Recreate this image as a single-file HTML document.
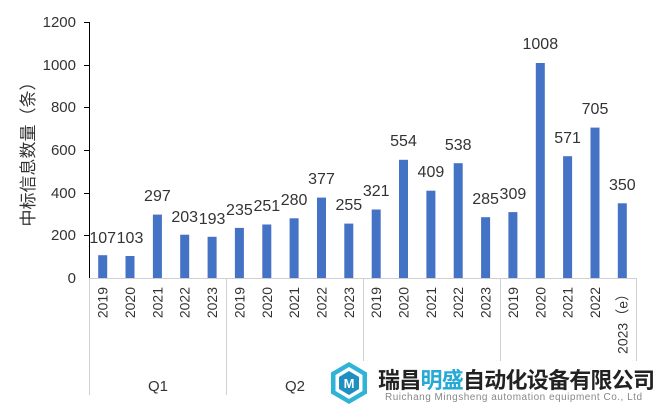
<!DOCTYPE html>
<html><head><meta charset="utf-8"><style>
html,body{margin:0;padding:0;background:#fff;}
svg{display:block;font-family:"Liberation Sans","Noto Sans CJK SC",sans-serif;}
</style></head><body>
<svg width="657" height="407" viewBox="0 0 657 407" xmlns="http://www.w3.org/2000/svg">
<rect width="657" height="407" fill="#fff"/>
<g font-size="15" fill="#333" text-anchor="end">
<text x="76" y="283">0</text>
<text x="76" y="240">200</text>
<text x="76" y="198">400</text>
<text x="76" y="155">600</text>
<text x="76" y="112">800</text>
<text x="76" y="70">1000</text>
<text x="76" y="27">1200</text>
</g>
<g stroke="#000" stroke-width="1">
<line x1="89.5" y1="22" x2="89.5" y2="278"/>
<line x1="84" y1="22.5" x2="89" y2="22.5"/>
<line x1="84" y1="65.5" x2="89" y2="65.5"/>
<line x1="84" y1="107.5" x2="89" y2="107.5"/>
<line x1="84" y1="150.5" x2="89" y2="150.5"/>
<line x1="84" y1="193.5" x2="89" y2="193.5"/>
<line x1="84" y1="235.5" x2="89" y2="235.5"/>
</g>
<g stroke="#d0d0d0" stroke-width="1">
<line x1="89" y1="278.5" x2="636" y2="278.5"/>
<line x1="89.5" y1="278" x2="89.5" y2="395"/>
<line x1="226.5" y1="278" x2="226.5" y2="395"/>
<line x1="363.5" y1="278" x2="363.5" y2="395"/>
<line x1="500.5" y1="278" x2="500.5" y2="395"/>
<line x1="636.5" y1="278" x2="636.5" y2="395"/>
</g>
<text transform="translate(34,150) rotate(-90)" font-size="17" fill="#333" text-anchor="middle">中标信息数量（条）</text>
<g fill="#4472c4">
<rect x="98.2" y="255.2" width="9" height="22.8"/>
<rect x="125.5" y="256.0" width="9" height="22.0"/>
<rect x="152.9" y="214.6" width="9" height="63.4"/>
<rect x="180.2" y="234.7" width="9" height="43.3"/>
<rect x="207.6" y="236.8" width="9" height="41.2"/>
<rect x="234.9" y="227.9" width="9" height="50.1"/>
<rect x="262.3" y="224.5" width="9" height="53.5"/>
<rect x="289.6" y="218.3" width="9" height="59.7"/>
<rect x="317.0" y="197.6" width="9" height="80.4"/>
<rect x="344.3" y="223.6" width="9" height="54.4"/>
<rect x="371.7" y="209.5" width="9" height="68.5"/>
<rect x="399.0" y="159.8" width="9" height="118.2"/>
<rect x="426.4" y="190.7" width="9" height="87.3"/>
<rect x="453.7" y="163.2" width="9" height="114.8"/>
<rect x="481.1" y="217.2" width="9" height="60.8"/>
<rect x="508.4" y="212.1" width="9" height="65.9"/>
<rect x="535.8" y="63.0" width="9" height="215.0"/>
<rect x="563.1" y="156.2" width="9" height="121.8"/>
<rect x="590.5" y="127.6" width="9" height="150.4"/>
<rect x="617.8" y="203.3" width="9" height="74.7"/>
</g>
<g font-size="16" fill="#333" text-anchor="middle">
<text x="102.7" y="243">107</text>
<text x="130.0" y="243">103</text>
<text x="157.4" y="201">297</text>
<text x="184.7" y="222">203</text>
<text x="212.1" y="224">193</text>
<text x="239.4" y="215">235</text>
<text x="266.8" y="211">251</text>
<text x="294.1" y="205">280</text>
<text x="321.5" y="184">377</text>
<text x="348.8" y="210">255</text>
<text x="376.2" y="196">321</text>
<text x="403.5" y="146">554</text>
<text x="430.9" y="177">409</text>
<text x="458.2" y="150">538</text>
<text x="485.6" y="204">285</text>
<text x="512.9" y="199">309</text>
<text x="540.3" y="49">1008</text>
<text x="567.6" y="143">571</text>
<text x="595.0" y="114">705</text>
<text x="622.3" y="190">350</text>
</g>
<g font-size="14" fill="#333" text-anchor="end">
<text transform="translate(107.7,287) rotate(-90)">2019</text>
<text transform="translate(135.0,287) rotate(-90)">2020</text>
<text transform="translate(162.4,287) rotate(-90)">2021</text>
<text transform="translate(189.7,287) rotate(-90)">2022</text>
<text transform="translate(217.1,287) rotate(-90)">2023</text>
<text transform="translate(244.4,287) rotate(-90)">2019</text>
<text transform="translate(271.8,287) rotate(-90)">2020</text>
<text transform="translate(299.1,287) rotate(-90)">2021</text>
<text transform="translate(326.5,287) rotate(-90)">2022</text>
<text transform="translate(353.8,287) rotate(-90)">2023</text>
<text transform="translate(381.2,287) rotate(-90)">2019</text>
<text transform="translate(408.5,287) rotate(-90)">2020</text>
<text transform="translate(435.9,287) rotate(-90)">2021</text>
<text transform="translate(463.2,287) rotate(-90)">2022</text>
<text transform="translate(490.6,287) rotate(-90)">2023</text>
<text transform="translate(517.9,287) rotate(-90)">2019</text>
<text transform="translate(545.3,287) rotate(-90)">2020</text>
<text transform="translate(572.6,287) rotate(-90)">2021</text>
<text transform="translate(600.0,287) rotate(-90)">2022</text>
<text transform="translate(627.3,287) rotate(-90)">2023（e）</text>
</g>
<g font-size="15" fill="#333" text-anchor="middle">
<text x="158" y="391">Q1</text>
<text x="295" y="391">Q2</text>
</g>
<rect x="326" y="361" width="331" height="46" fill="#fff"/>
<g transform="translate(349,383)">
<polygon points="0,-21 18,-10.5 18,10.5 0,21 -18,10.5 -18,-10.5" fill="#2fb3d6"/>
<polygon points="0,-16 13.5,-8 13.5,8 0,16 -13.5,8 -13.5,-8" fill="#fff"/>
<polygon points="0,-12 10,-6 10,6 0,12 -10,6 -10,-6" fill="#1e8fc0"/>
<text x="0" y="5" font-size="13" font-weight="bold" fill="#fff" text-anchor="middle">M</text>
</g>
<text x="378" y="388" font-size="22" font-weight="bold" fill="#222" font-family="'Noto Sans CJK SC',sans-serif" textLength="277">瑞昌<tspan fill="#27a9d6">明盛</tspan>自动化设备有限公司</text>
<text x="385" y="400" font-size="10" fill="#888" textLength="257">Ruichang Mingsheng automation equipment Co., Ltd</text>
</svg>
</body></html>
